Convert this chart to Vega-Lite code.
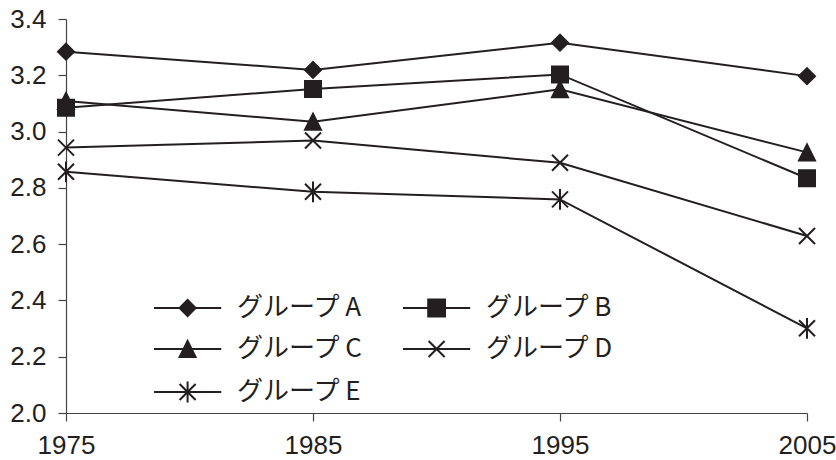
{
  "$schema": "https://vega.github.io/schema/vega-lite/v6.json",
  "width": 741,
  "height": 394,
  "autosize": "none",
  "padding": {"left": 66, "top": 19, "right": 29, "bottom": 47},
  "background": "white",
  "config": {
    "view": {"stroke": null},
    "axis": {
      "grid": false,
      "title": null,
      "labelFont": "Liberation Sans",
      "labelFontSize": 26,
      "labelColor": "#231f20",
      "domainColor": "#444444",
      "tickColor": "#444444",
      "domainWidth": 1.2,
      "tickWidth": 1.2,
      "tickSize": 8
    }
  },
  "data": {
    "values": [
      {"group": "グループ A", "year": 1975, "value": 3.284},
      {"group": "グループ A", "year": 1985, "value": 3.219},
      {"group": "グループ A", "year": 1995, "value": 3.316},
      {"group": "グループ A", "year": 2005, "value": 3.197},
      {"group": "グループ B", "year": 1975, "value": 3.085},
      {"group": "グループ B", "year": 1985, "value": 3.151},
      {"group": "グループ B", "year": 1995, "value": 3.203},
      {"group": "グループ B", "year": 2005, "value": 2.834},
      {"group": "グループ C", "year": 1975, "value": 3.109},
      {"group": "グループ C", "year": 1985, "value": 3.035},
      {"group": "グループ C", "year": 1995, "value": 3.15},
      {"group": "グループ C", "year": 2005, "value": 2.926},
      {"group": "グループ D", "year": 1975, "value": 2.943},
      {"group": "グループ D", "year": 1985, "value": 2.968},
      {"group": "グループ D", "year": 1995, "value": 2.889},
      {"group": "グループ D", "year": 2005, "value": 2.629},
      {"group": "グループ E", "year": 1975, "value": 2.857},
      {"group": "グループ E", "year": 1985, "value": 2.786},
      {"group": "グループ E", "year": 1995, "value": 2.759},
      {"group": "グループ E", "year": 2005, "value": 2.301}
    ]
  },
  "resolve": {"scale": {"shape": "independent"}, "legend": {"shape": "independent"}},
  "layer": [
    {
      "mark": {"type": "line", "color": "#231f20", "strokeWidth": 2},
      "encoding": {
        "x": {
          "field": "year", "type": "quantitative",
          "scale": {"domain": [1975, 2005], "nice": false, "zero": false},
          "axis": {"values": [1975, 1985, 1995, 2005], "format": "d", "labelPadding": 11, "labelFlush": false}
        },
        "y": {
          "field": "value", "type": "quantitative",
          "scale": {"domain": [2.0, 3.4], "nice": false, "zero": false},
          "axis": {"values": [2.0, 2.2, 2.4, 2.6, 2.8, 3.0, 3.2, 3.4], "format": ".1f", "labelPadding": 12}
        },
        "detail": {"field": "group"}
      }
    },
    {
      "mark": {"type": "point", "fill": "#231f20", "stroke": "#231f20", "strokeWidth": 2, "opacity": 1, "size": 256},
      "encoding": {
        "x": {"field": "year", "type": "quantitative"},
        "y": {"field": "value", "type": "quantitative"},
        "shape": {
          "field": "group", "type": "nominal",
          "scale": {"range": [
            "M0,-1L1,0L0,1L-1,0Z",
            "M-1,-1H1V1H-1Z",
            "M0,-1L1,1H-1Z",
            "M-1,-1L1,1M-1,1L1,-1",
            "M-1,-1L1,1M-1,1L1,-1M0,-1.3V1.3"
          ]},
          "legend": null
        }
      }
    },
    {
      "mark": {"type": "point", "fill": "#231f20", "stroke": "#231f20", "strokeWidth": 2, "opacity": 0, "size": 256},
      "encoding": {
        "x": {"field": "year", "type": "quantitative"},
        "y": {"field": "value", "type": "quantitative"},
        "shape": {
          "field": "group", "type": "nominal",
          "scale": {"range": [
            "M0,0H8.4M4.2,-1L5.2,0L4.2,1L3.2,0Z",
            "M0,0H8.4M3.15,-1.05H5.25V1.05H3.15Z",
            "M0,0H8.4M4.2,-1L5.2,1H3.2Z",
            "M0,0H8.4M3.2,-1L5.2,1M3.2,1L5.2,-1",
            "M0,0H8.4M3.2,-1L5.2,1M3.2,1L5.2,-1M4.2,-1.3V1.3"
          ]},
          "legend": {
            "title": null,
            "orient": "none",
            "legendX": 75,
            "legendY": 276,
            "columns": 2,
            "direction": "horizontal",
            "padding": 0,
            "symbolSize": 256,
            "symbolStrokeWidth": 2,
            "symbolOpacity": 1,
            "labelOffset": 70,
            "labelFont": "Noto Sans CJK JP",
            "labelFontSize": 26,
            "labelColor": "#231f20",
            "labelLimit": 400,
            "rowPadding": 15,
            "columnPadding": 26
          }
        }
      }
    }
  ]
}
